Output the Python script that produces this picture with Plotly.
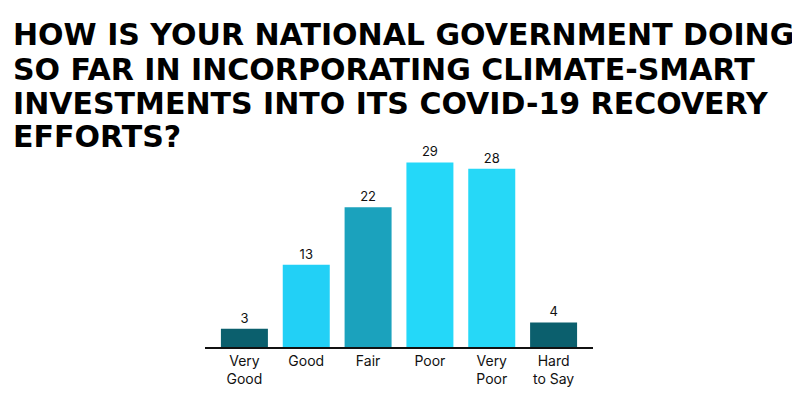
import plotly.graph_objects as go

categories = ["Very<br>Good", "Good", "Fair", "Poor", "Very<br>Poor", "Hard<br>to Say"]
values = [3, 13, 22, 29, 28, 4]
colors = ["#0B5F6D", "#22D0F6", "#1BA2BD", "#24D8F9", "#26D8F7", "#0B5F6D"]
title_lines = [
    "HOW IS YOUR NATIONAL GOVERNMENT DOING",
    "SO FAR IN INCORPORATING CLIMATE-SMART",
    "INVESTMENTS INTO ITS COVID-19 RECOVERY",
    "EFFORTS?",
]

# page body has an 8px default margin: work in window pixels, shifted by OFF
OFF = 8
W, H = 800 - OFF, 395 - OFF


def px_x(x):
    return (x - OFF) / W


def px_y(y):
    return 1 - (y - OFF) / H


fig = go.Figure(go.Bar(
    x=categories, y=values, marker_color=colors, marker_line_width=0,
    text=[str(v) for v in values], textposition="outside",
    textfont=dict(family="Inter", size=13, color="#111"),
    cliponaxis=False,
))

fig.update_layout(
    width=W, height=H, margin=dict(l=0, r=0, t=0, b=0),
    plot_bgcolor="white", paper_bgcolor="white", showlegend=False,
    bargap=0.24,
    xaxis=dict(domain=[px_x(213.5), px_x(584.5)], showline=False,
               ticks="", ticklabelstandoff=3,
               tickfont=dict(family="Inter", size=14, color="#111"),
               showgrid=False, zeroline=False),
    yaxis=dict(domain=[px_y(348), px_y(156)], range=[0, 30], visible=False,
               showgrid=False, zeroline=False),
)

# baseline rule, longer than the bar area
fig.add_shape(type="line", xref="paper", yref="paper",
              x0=px_x(205), x1=px_x(593), y0=px_y(348), y1=px_y(348),
              line=dict(color="#111", width=2))

tops = [15, 49.5, 84, 117]
for line, top in zip(title_lines, tops):
    fig.add_annotation(text="<b>" + line + "</b>", xref="paper", yref="paper",
                       x=px_x(11), y=px_y(top), xanchor="left", yanchor="top",
                       showarrow=False,
                       font=dict(family="DejaVu Sans", size=30, color="#000"))

fig.write_html("out.html")
